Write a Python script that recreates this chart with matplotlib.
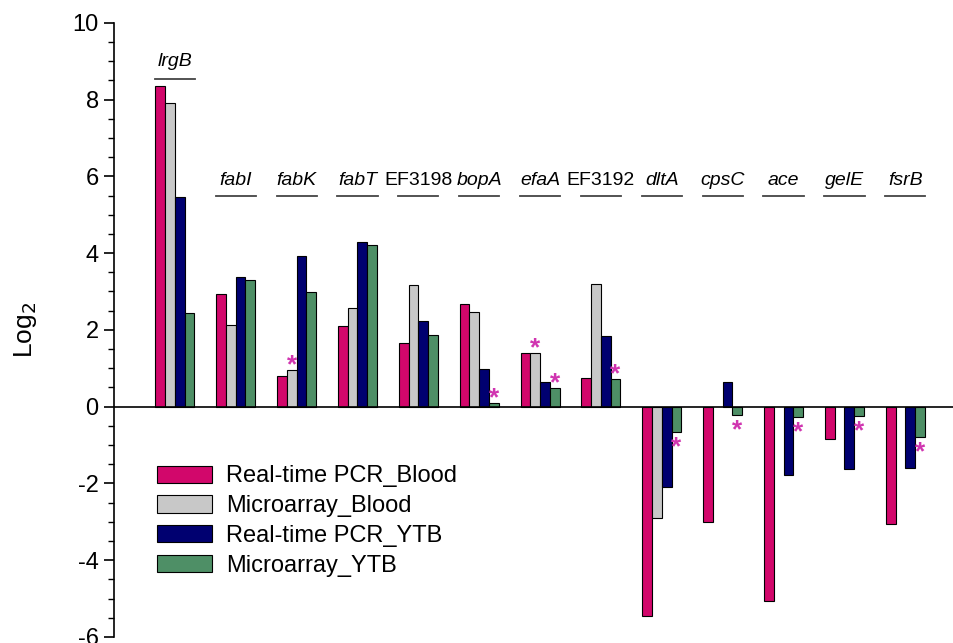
import numpy as np
import matplotlib.pyplot as plt

plt.rcParams['font.family'] = ['Liberation Sans', 'DejaVu Sans']
plt.rcParams['axes.unicode_minus'] = False

# Genes and their log2 ratios
genes = ['lrgB', 'fabI', 'fabK', 'fabT', 'EF3198', 'bopA', 'efaA',
         'EF3192', 'dltA', 'cpsC', 'ace', 'gelE', 'fsrB']
italic = [True, True, True, True, False, True, True,
          False, True, True, True, True, True]

pcr_blood = [8.36, 2.94, 0.81, 2.09, 1.67, 2.67, 1.40, 0.74, -5.46, -3.00, -5.07, -0.84, -3.06]
array_blood = [7.92, 2.13, 0.96, 2.58, 3.16, 2.47, 1.40, 3.20, -2.90, np.nan, np.nan, np.nan, np.nan]
pcr_ytb = [5.45, 3.39, 3.92, 4.29, 2.22, 0.97, 0.64, 1.84, -2.10, 0.65, -1.78, -1.63, -1.59]
array_ytb = [2.44, 3.31, 2.98, 4.20, 1.86, 0.09, 0.49, 0.71, -0.65, -0.22, -0.27, -0.25, -0.79]

series = [pcr_blood, array_blood, pcr_ytb, array_ytb]
names = ['Real-time PCR_Blood', 'Microarray_Blood', 'Real-time PCR_YTB', 'Microarray_YTB']
colors = ['#d2076b', '#c8c8c8', '#000070', '#4e8f66']

# (gene index, series index) of the starred bars
stars = [(2, 1), (5, 3), (6, 1), (6, 3), (7, 3), (8, 3), (9, 3), (10, 3), (11, 3), (12, 3)]

fig = plt.figure(figsize=(9.54, 6.43), dpi=100)
ax = fig.add_axes([0.1195, 0.0095, 0.8805, 0.955])

x = np.arange(len(genes))
w = 0.16
for k, vals in enumerate(series):
    ax.bar(x + (k - 1.5) * w, vals, w, color=colors[k], edgecolor='black',
           linewidth=0.8, label=names[k], zorder=2)

for gi, si in stars:
    v = series[si][gi]
    xs = x[gi] + (si - 1.5) * w
    ys = v + 0.12 if v >= 0 else v - 0.4
    ax.text(xs, ys, '*', ha='center', va='center', fontsize=19,
            color='#d035b0', fontweight='bold')

# gene labels with underline
for i, g in enumerate(genes):
    ly, uy = (9.0, 8.53) if i == 0 else (5.88, 5.5)
    ax.text(x[i], ly, g, ha='center', va='center', fontsize=14,
            style='italic' if italic[i] else 'normal')
    ax.plot([x[i] - 0.33, x[i] + 0.33], [uy, uy], color='#444444', lw=1.3)

ax.axhline(0, color='black', lw=1.2, zorder=3)

ax.set_xlim(-1.0, 12.8)
ax.set_ylim(-6, 10)
ax.set_yticks(np.arange(-6, 11, 2))
ax.set_yticks(np.arange(-6, 10.5, 0.5), minor=True)
ax.set_xticks([])
for s in ['top', 'right', 'bottom']:
    ax.spines[s].set_visible(False)
ax.spines['left'].set_linewidth(1.2)
ax.tick_params(axis='y', which='major', length=7, width=1.2, labelsize=17, pad=4)
ax.tick_params(axis='y', which='minor', length=4, width=1.0)
ax.set_ylabel('Log$_2$', fontsize=19, labelpad=24)

ax.legend(loc='upper left', bbox_to_anchor=(0.0405, 0.2945), frameon=False,
          fontsize=17, handlelength=2.3, handleheight=0.75,
          handletextpad=0.6, labelspacing=0.33, borderaxespad=0)

fig.savefig('out.png', dpi=100)
